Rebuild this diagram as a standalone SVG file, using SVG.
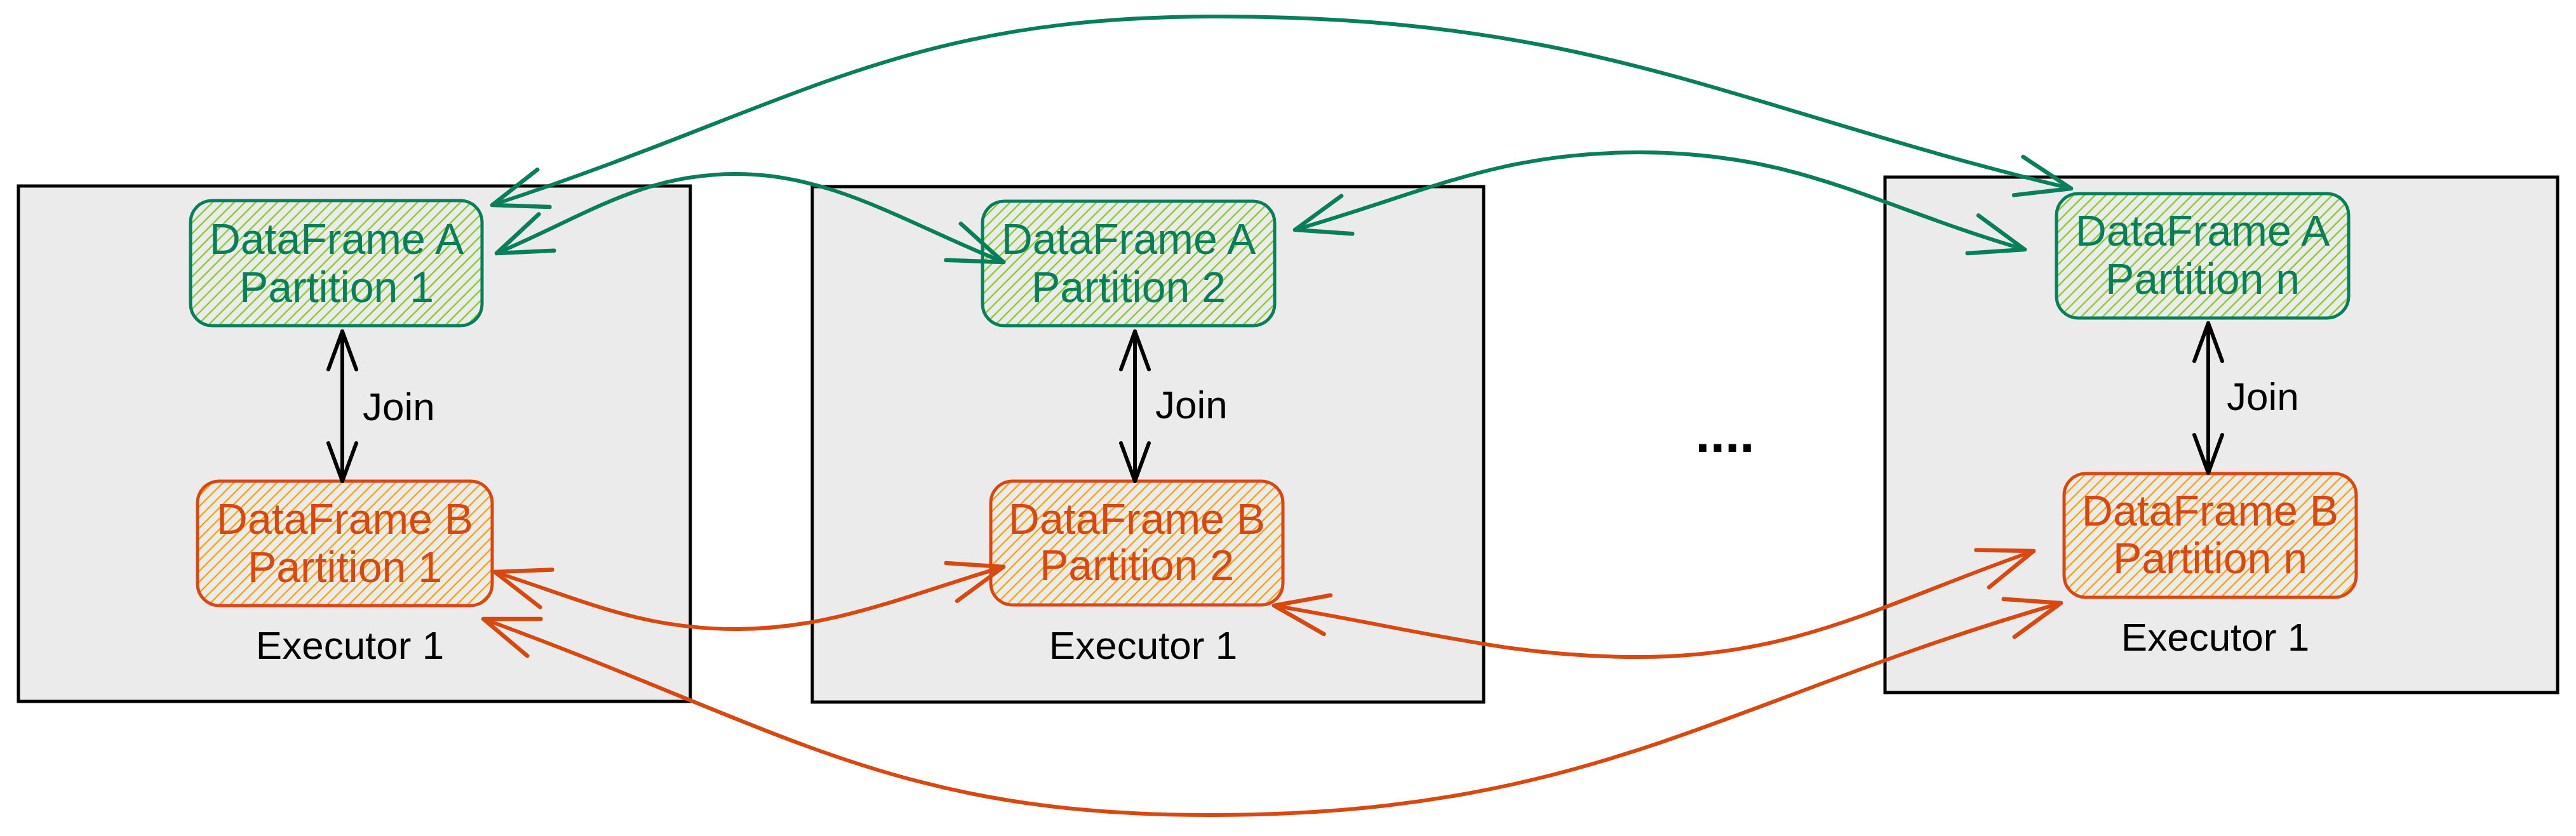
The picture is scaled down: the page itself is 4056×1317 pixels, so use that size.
<svg xmlns="http://www.w3.org/2000/svg" width="4056" height="1317" viewBox="0 0 4056 1317">
  <style>
    .exec{fill:#ebebeb;stroke:#000;stroke-width:5}
    .ga{fill:url(#hatchG);stroke:#087f5b;stroke-width:5}
    .ob{fill:url(#hatchO);stroke:#d9480f;stroke-width:5}
    .gt{fill:#087f5b;font-family:"Liberation Sans",Arial,sans-serif;font-size:68px;text-anchor:middle}
    .ot{fill:#d9480f;font-family:"Liberation Sans",Arial,sans-serif;font-size:68px;text-anchor:middle}
    .lbl{fill:#000;font-family:"Liberation Sans",Arial,sans-serif;font-size:62px}
    .gline{fill:none;stroke:#087f5b;stroke-width:6;stroke-linecap:round;marker-start:url(#mg);marker-end:url(#mg)}
    .oline{fill:none;stroke:#d9480f;stroke-width:6;stroke-linecap:round;marker-start:url(#mo);marker-end:url(#mo)}
    .jline{fill:none;stroke:#000;stroke-width:6;stroke-linecap:round;marker-start:url(#mj);marker-end:url(#mj)}
  </style>
  <defs>
    <pattern id="hatchG" patternUnits="userSpaceOnUse" width="12" height="12" patternTransform="rotate(45)">
      <rect width="12" height="12" fill="#ebebeb"/>
      <line x1="6" y1="0" x2="6" y2="12" stroke="#82c91e" stroke-width="2.2"/>
    </pattern>
    <pattern id="hatchO" patternUnits="userSpaceOnUse" width="12" height="12" patternTransform="rotate(45)">
      <rect width="12" height="12" fill="#ebebeb"/>
      <line x1="6" y1="0" x2="6" y2="12" stroke="#f59f00" stroke-width="2.2"/>
    </pattern>
    <marker id="mg" markerUnits="userSpaceOnUse" markerWidth="200" markerHeight="200" refX="0" refY="0" viewBox="-100 -100 200 200" orient="auto-start-reverse" overflow="visible">
      <path d="M-85,-31 L0,0 L-85,31" fill="none" stroke="#087f5b" stroke-width="6.5" stroke-linecap="round" stroke-linejoin="round"/>
    </marker>
    <marker id="mo" markerUnits="userSpaceOnUse" markerWidth="200" markerHeight="200" refX="0" refY="0" viewBox="-100 -100 200 200" orient="auto-start-reverse" overflow="visible">
      <path d="M-85,-31 L0,0 L-85,31" fill="none" stroke="#d9480f" stroke-width="6.5" stroke-linecap="round" stroke-linejoin="round"/>
    </marker>
    <marker id="mj" markerUnits="userSpaceOnUse" markerWidth="200" markerHeight="200" refX="0" refY="0" viewBox="-100 -100 200 200" orient="auto-start-reverse" overflow="visible">
      <path d="M-60,-22 L0,0 L-60,22" fill="none" stroke="#000" stroke-width="6" stroke-linecap="round" stroke-linejoin="round"/>
    </marker>
  </defs>
  <rect width="4056" height="1317" fill="#fff"/>

  <g id="executor1">
    <rect class="exec" x="29" y="293" width="1058" height="812"/>
    <text class="lbl" x="551" y="1038" text-anchor="middle">Executor 1</text>
  </g>
  <g id="executor2">
    <rect class="exec" x="1279" y="294" width="1057" height="812"/>
    <text class="lbl" x="1800" y="1038" text-anchor="middle">Executor 1</text>
  </g>
  <g id="executor3">
    <rect class="exec" x="2968" y="279" width="1059" height="812"/>
    <text class="lbl" x="3488" y="1025" text-anchor="middle">Executor 1</text>
  </g>

  <g id="dfA1">
    <rect class="ga" x="300" y="316" width="459" height="197" rx="34"/>
    <text class="gt" x="530" y="400">DataFrame A</text>
    <text class="gt" x="530" y="476">Partition 1</text>
  </g>
  <g id="dfB1">
    <rect class="ob" x="311" y="758" width="464" height="196" rx="34"/>
    <text class="ot" x="543" y="841">DataFrame B</text>
    <text class="ot" x="543" y="917">Partition 1</text>
  </g>
  <g id="dfA2">
    <rect class="ga" x="1547" y="317" width="460" height="196" rx="34"/>
    <text class="gt" x="1777" y="400">DataFrame A</text>
    <text class="gt" x="1777" y="476">Partition 2</text>
  </g>
  <g id="dfB2">
    <rect class="ob" x="1560" y="758" width="460" height="195" rx="34"/>
    <text class="ot" x="1790" y="841">DataFrame B</text>
    <text class="ot" x="1790" y="914">Partition 2</text>
  </g>
  <g id="dfA3">
    <rect class="ga" x="3238" y="305" width="460" height="196" rx="34"/>
    <text class="gt" x="3468" y="387">DataFrame A</text>
    <text class="gt" x="3468" y="463">Partition n</text>
  </g>
  <g id="dfB3">
    <rect class="ob" x="3250" y="746" width="460" height="195" rx="34"/>
    <text class="ot" x="3480" y="828">DataFrame B</text>
    <text class="ot" x="3480" y="903">Partition n</text>
  </g>

  <g id="ellipsis">
    <text x="2716" y="712" font-family="Liberation Sans, Arial, sans-serif" font-size="84" font-weight="bold" text-anchor="middle" fill="#000">....</text>
  </g>

  <g id="connectors">
    <path class="jline" d="M539,522 L539,758"/>
    <text class="lbl" x="571" y="662">Join</text>
    <path class="jline" d="M1787,522 L1787,758"/>
    <text class="lbl" x="1819" y="659">Join</text>
    <path class="jline" d="M3477,509 L3477,745"/>
    <text class="lbl" x="3506" y="646">Join</text>

    <path class="gline" d="M775,323 C1250,168 1414,26 1914,26 C2514,26 2726,169 3261,297"/>
    <path class="gline" d="M782,399 C920,341 1009,274 1159,274 C1309,274 1422,349 1580,413"/>
    <path class="gline" d="M2039,362 C2250,301 2361,240 2581,240 C2831,240 2948,323 3188,393"/>

    <path class="oline" d="M779,901 C922,947 1010,991 1160,991 C1310,991 1426,938 1580,893"/>
    <path class="oline" d="M761,975 C1231,1146 1405,1284 1905,1284 C2505,1284 2716,1102 3245,950"/>
    <path class="oline" d="M2006,954 C2252,996 2380,1035 2580,1035 C2830,1035 2966,950 3202,868"/>
  </g>
</svg>
